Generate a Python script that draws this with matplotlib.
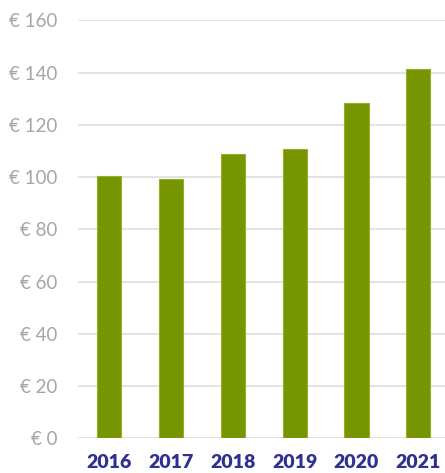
import matplotlib

matplotlib.use("Agg")
import matplotlib.pyplot as plt
from matplotlib.ticker import FuncFormatter

years = ["2016", "2017", "2018", "2019", "2020", "2021"]
values = [100.6, 99.3, 108.9, 110.8, 128.3, 141.4]
y_ticks = [0, 20, 40, 60, 80, 100, 120, 140, 160]

plt.rcParams["font.family"] = ["Lato", "DejaVu Sans"]

fig = plt.figure(figsize=(4.45, 4.73), dpi=100)
ax = fig.add_axes([78 / 445, 0.0734, 1 - 78 / 445, 0.9567 - 0.0734])

ax.bar(range(len(years)), values, width=0.39, color="#779500",
       edgecolor="#8FB22A", linewidth=0.8, zorder=3)

ax.set_ylim(0, 160)
ax.set_xlim(-0.5, 5.43)
ax.set_yticks(y_ticks)
ax.yaxis.set_major_formatter(FuncFormatter(lambda v, _: f"€ {v:.0f}"))
ax.set_xticks(range(len(years)))
ax.set_xticklabels(years)

ax.grid(axis="y", color="#E3E3E3", linewidth=1.4, zorder=0)
for s in ax.spines.values():
    s.set_visible(False)

ax.tick_params(axis="y", length=0, pad=15, labelsize=13.5, labelcolor="#A6A6A6")
ax.tick_params(axis="x", length=0, pad=11, labelsize=14, labelcolor="#2E3192")
for lbl in ax.get_xticklabels():
    lbl.set_fontweight("heavy")

fig.savefig("out.png", dpi=100)
